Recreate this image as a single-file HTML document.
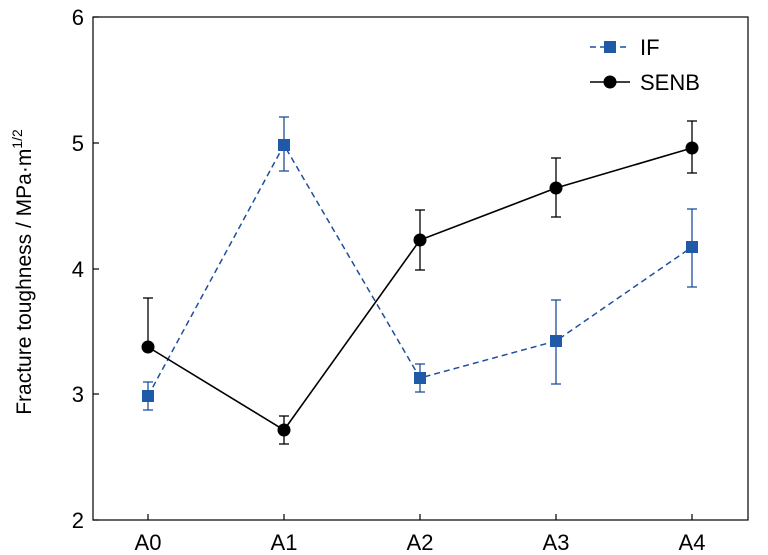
<!DOCTYPE html>
<html><head><meta charset="utf-8"><style>
html,body{margin:0;padding:0;background:#fff;}
svg{display:block;font-family:"Liberation Sans",Arial,sans-serif;}
</style></head><body>
<svg width="768" height="555" viewBox="0 0 768 555">
<rect x="93" y="17" width="655" height="503" fill="none" stroke="#000" stroke-width="1.2"/>
<g stroke="#000" stroke-width="1.2">
<line x1="93" y1="17" x2="99" y2="17"/><line x1="93" y1="143" x2="99" y2="143"/>
<line x1="93" y1="269" x2="99" y2="269"/><line x1="93" y1="394" x2="99" y2="394"/>
<line x1="93" y1="520" x2="99" y2="520"/>
<line x1="148" y1="520" x2="148" y2="514"/><line x1="284" y1="520" x2="284" y2="514"/>
<line x1="420" y1="520" x2="420" y2="514"/><line x1="556" y1="520" x2="556" y2="514"/>
<line x1="692" y1="520" x2="692" y2="514"/>
</g>
<g font-size="22" fill="#000" text-anchor="end">
<text x="84" y="25">6</text><text x="84" y="151">5</text><text x="84" y="277">4</text>
<text x="84" y="402">3</text><text x="84" y="528">2</text>
</g>
<g font-size="22" fill="#000" text-anchor="middle">
<text x="148" y="550">A0</text><text x="284" y="550">A1</text><text x="420" y="550">A2</text>
<text x="556" y="550">A3</text><text x="692" y="550">A4</text>
</g>
<text transform="translate(31,272) rotate(-90)" font-size="21" text-anchor="middle">Fracture toughness / MPa·m<tspan font-size="14" dy="-9">1/2</tspan></text>
<g stroke="#1f4e9c" stroke-width="1.3">
<line x1="148" y1="382" x2="148" y2="410"/><line x1="143" y1="382" x2="153" y2="382"/><line x1="143" y1="410" x2="153" y2="410"/>
<line x1="284" y1="117" x2="284" y2="171"/><line x1="279" y1="117" x2="289" y2="117"/><line x1="279" y1="171" x2="289" y2="171"/>
<line x1="420" y1="364" x2="420" y2="392"/><line x1="415" y1="364" x2="425" y2="364"/><line x1="415" y1="392" x2="425" y2="392"/>
<line x1="556" y1="300" x2="556" y2="384"/><line x1="551" y1="300" x2="561" y2="300"/><line x1="551" y1="384" x2="561" y2="384"/>
<line x1="692" y1="209" x2="692" y2="287"/><line x1="687" y1="209" x2="697" y2="209"/><line x1="687" y1="287" x2="697" y2="287"/>
</g>
<polyline points="148,396 284,145 420,378 556,341 692,247" fill="none" stroke="#1f4e9c" stroke-width="1.5" stroke-dasharray="6,4"/>
<g fill="#1f5aa8">
<rect x="142" y="390" width="12" height="12"/><rect x="278" y="139" width="12" height="12"/>
<rect x="414" y="372" width="12" height="12"/><rect x="550" y="335" width="12" height="12"/>
<rect x="686" y="241" width="12" height="12"/>
</g>
<g stroke="#000" stroke-width="1.3">
<line x1="148" y1="298" x2="148" y2="347"/><line x1="143" y1="298" x2="153" y2="298"/>
<line x1="284" y1="416" x2="284" y2="444"/><line x1="279" y1="416" x2="289" y2="416"/><line x1="279" y1="444" x2="289" y2="444"/>
<line x1="420" y1="210" x2="420" y2="270"/><line x1="415" y1="210" x2="425" y2="210"/><line x1="415" y1="270" x2="425" y2="270"/>
<line x1="556" y1="158" x2="556" y2="217"/><line x1="551" y1="158" x2="561" y2="158"/><line x1="551" y1="217" x2="561" y2="217"/>
<line x1="692" y1="121" x2="692" y2="173"/><line x1="687" y1="121" x2="697" y2="121"/><line x1="687" y1="173" x2="697" y2="173"/>
</g>
<polyline points="148,347 284,430 420,240 556,188 692,148" fill="none" stroke="#000" stroke-width="1.6"/>
<g fill="#000">
<circle cx="148" cy="347" r="6.5"/><circle cx="284" cy="430" r="6.5"/><circle cx="420" cy="240" r="6.5"/>
<circle cx="556" cy="188" r="6.5"/><circle cx="692" cy="148" r="6.5"/>
</g>
<line x1="590" y1="47" x2="630" y2="47" stroke="#1f4e9c" stroke-width="1.5" stroke-dasharray="6,4"/>
<rect x="604" y="41" width="12" height="12" fill="#1f5aa8"/>
<text x="640" y="55" font-size="22">IF</text>
<line x1="590" y1="82" x2="630" y2="82" stroke="#000" stroke-width="1.6"/>
<circle cx="610" cy="82" r="6.5" fill="#000"/>
<text x="640" y="90" font-size="22">SENB</text>
</svg>
</body></html>
